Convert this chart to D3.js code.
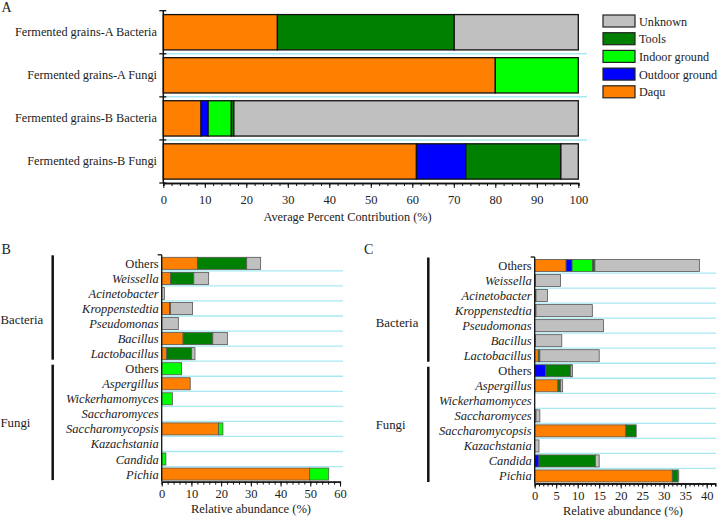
<!DOCTYPE html>
<html><head><meta charset="utf-8">
<script src="https://cdn.jsdelivr.net/npm/d3@7"></script>
</head>
<body style="margin:0;background:#fff"><svg id="c" width="720" height="517" font-family="Liberation Serif"></svg>
<script>
// ---------- DATA ----------
const sources = ["Daqu","Outdoor ground","Indoor ground","Tools","Unknown"];
const legendOrder = ["Unknown","Tools","Indoor ground","Outdoor ground","Daqu"];
const sourceColors = ["#ff8000","#0000ff","#00ff00","#008000","#c0c0c0"];

// Panel A
const samplesA = ["Fermented grains-A Bacteria","Fermented grains-A Fungi","Fermented grains-B Bacteria","Fermented grains-B Fungi"];
const aDaqu    = [27.5, 80.0, 9.1, 61.0];
const aOutdoor = [0, 0, 1.7, 11.9];
const aIndoor  = [0, 20.0, 5.6, 0];
const aTools   = [42.6, 0, 0.6, 22.9];
const aUnknown = [29.9, 0, 83.0, 4.2];
const ticksA = [0,10,20,30,40,50,60,70,80,90,100];

// Panels B and C (genus rows, top to bottom)
const genera = ["Others","Weissella","Acinetobacter","Kroppenstedtia","Pseudomonas","Bacillus","Lactobacillus",
                "Others","Aspergillus","Wickerhamomyces","Saccharomyces","Saccharomycopsis","Kazachstania","Candida","Pichia"];
const italicRow = [false,true,true,true,true,true,true,false,true,true,true,true,true,true,true];
const groups = ["Bacteria","Fungi"];
const groupRows = [[0,6],[7,14]];

const bDaqu    = [12.0,3.0,0,2.6,0,7.2,1.7, 0,9.6,0,0,19.1,0,0,49.8];
const bOutdoor = [0,0,0,0,0,0,0, 0,0,0,0,0,0,0,0];
const bIndoor  = [0,0,0,0,0,0,0, 6.7,0,3.6,0,1.5,0,1.4,6.4];
const bTools   = [16.6,7.8,0,0.4,0,10.0,8.4, 0,0,0,0,0,0,0,0];
const bUnknown = [4.7,5.0,0.9,7.4,5.6,4.9,1.1, 0,0,0,0,0,0,0,0];
const ticksB = [0,10,20,30,40,50,60];

const cDaqu    = [7.3,0,0,0.3,0,0.2,0.85, 0,5.4,0,0.3,21.2,0,0,32.0];
const cOutdoor = [1.4,0,0,0,0,0,0, 2.6,0,0,0,0,0,1.0,0];
const cIndoor  = [4.8,0,0,0,0,0,0, 0,0,0,0,0,0,0,0];
const cTools   = [0.5,0.2,0.3,0,0,0,0.35, 5.8,0.6,0,0,2.4,0,13.1,1.3];
const cUnknown = [24.3,5.8,2.7,13.1,16.0,6.1,13.8, 0.4,0.5,0,0.9,0,1.0,0.9,0.2];
const ticksC = [0,5,10,15,20,25,30,35,40];

// ---------- DRAW ----------
const FONT = "Liberation Serif";
const svg = d3.select("#c");
const color = d3.scaleOrdinal().domain(sources).range(sourceColors);
const cyan = "#a8e9f2";
const txt = (sel)=>sel.attr("font-family",FONT).attr("fill","#222");

function rows(names, arrs){
  return names.map((n,i)=>{
    const o = {key:i, name:n};
    sources.forEach((s,j)=>o[s]=arrs[j][i]);
    return o;
  });
}
const stack = d3.stack().keys(sources);

// ----- Panel A -----
{
  const x = d3.scaleLinear().domain([0,100]).range([163.3,578.3]);
  const y = d3.scaleBand().domain(d3.range(samplesA.length)).range([10.7,183]).paddingInner(0.18).paddingOuter(0.09);
  const data = rows(samplesA,[aDaqu,aOutdoor,aIndoor,aTools,aUnknown]);
  const series = stack(data);
  const g = svg.append("g");
  for(let i=1;i<samplesA.length;i++){
    const yy = 10.7 + i*(183-10.7)/samplesA.length;
    g.append("line").attr("x1",x(0)).attr("x2",587).attr("y1",yy).attr("y2",yy).attr("stroke",cyan).attr("stroke-width",1.5);
  }
  g.selectAll("g.s").data(series).join("g").attr("fill",d=>color(d.key))
    .selectAll("rect").data(d=>d.filter(p=>p[1]-p[0]>0)).join("rect")
    .attr("x",d=>x(d[0])).attr("width",d=>x(d[1])-x(d[0]))
    .attr("y",d=>y(d.data.key)).attr("height",y.bandwidth())
    .attr("stroke","#111").attr("stroke-width",1.3);
  const ax = g.append("g").attr("transform","translate(0,183)");
  ax.call(d3.axisBottom(x).tickValues(ticksA).tickSize(5).tickSizeOuter(0));
  ax.append("g").call(d3.axisBottom(x).tickValues(d3.range(0,101,2)).tickSize(3).tickFormat(""));
  ax.attr("font-family",FONT);
  ax.selectAll(".domain").attr("stroke","#111").attr("stroke-width",1.5);
  ax.selectAll("line").attr("stroke","#111");
  ax.selectAll("text").attr("font-size",12.5).attr("y",12).call(txt);
  g.append("text").attr("x",x(44.4)).attr("y",221).attr("text-anchor","middle").attr("font-size",12.3).call(txt).text("Average Percent Contribution (%)");
  g.append("line").attr("x1",x(0)).attr("x2",x(0)).attr("y1",10.7).attr("y2",183).attr("stroke","#111").attr("stroke-width",1.5);
  for(let i=0;i<=samplesA.length;i++){
    const yy = 10.7 + i*(183-10.7)/samplesA.length;
    g.append("line").attr("x1",x(0)-4).attr("x2",x(0)+3).attr("y1",yy).attr("y2",yy).attr("stroke","#111").attr("stroke-width",1.3);
  }
  g.selectAll("text.cat").data(samplesA).join("text").attr("class","cat")
    .attr("x",157).attr("y",(d,i)=>y(i)+y.bandwidth()/2+4).attr("text-anchor","end").attr("font-size",12.3).call(txt).text(d=>d);
  const lg = g.append("g");
  legendOrder.forEach((s,i)=>{
    const yy = 15 + i*17.7;
    lg.append("rect").attr("x",603).attr("y",yy).attr("width",32).attr("height",12).attr("fill",color(s)).attr("stroke","#222").attr("stroke-width",1.2);
    lg.append("text").attr("x",639).attr("y",yy+10.5).attr("font-size",12.2).call(txt).text(s);
  });
  svg.append("text").attr("x",1.5).attr("y",12).attr("font-size",14).call(txt).text("A");
}

// ----- Panels B and C -----
function panel(opt){
  const x = d3.scaleLinear().domain(opt.domain).range(opt.xr);
  const y = d3.scaleBand().domain(d3.range(genera.length)).range(opt.yr).paddingInner(0.2).paddingOuter(0.1);
  const data = rows(genera, opt.arrs);
  const series = stack(data);
  const g = svg.append("g");
  const axisY = opt.yr[1];
  for(let i=1;i<genera.length;i++){
    const yy = y(i) - y.step()*0.1;
    g.append("line").attr("x1",x(0)).attr("x2",opt.lineEnd).attr("y1",yy).attr("y2",yy).attr("stroke",cyan).attr("stroke-width",1.3);
  }
  g.selectAll("g.s").data(series).join("g").attr("fill",d=>color(d.key))
    .selectAll("rect").data(d=>d.filter(p=>p[1]-p[0]>0)).join("rect")
    .attr("x",d=>x(d[0])).attr("width",d=>x(d[1])-x(d[0]))
    .attr("y",d=>y(d.data.key)).attr("height",y.bandwidth())
    .attr("stroke","#555").attr("stroke-width",0.8);
  const ax = g.append("g").attr("transform",`translate(0,${axisY})`);
  ax.call(d3.axisBottom(x).tickValues(opt.ticks).tickSize(5).tickSizeOuter(0));
  ax.append("g").call(d3.axisBottom(x).tickValues(d3.range(0,opt.domain[1]+0.001,opt.minor)).tickSize(3).tickFormat(""));
  ax.attr("font-family",FONT);
  ax.selectAll(".domain").attr("stroke","#111").attr("stroke-width",1.3);
  ax.selectAll("line").attr("stroke","#111");
  ax.selectAll("text").attr("font-size",12.5).attr("y",8).call(txt);
  g.append("text").attr("x",opt.titleX).attr("y",axisY+31).attr("text-anchor","middle").attr("font-size",12.5).call(txt).text("Relative abundance (%)");
  g.append("line").attr("x1",x(0)).attr("x2",x(0)).attr("y1",opt.yr[0]-1).attr("y2",axisY).attr("stroke","#111").attr("stroke-width",1.3);
  g.append("line").attr("x1",x(0)-4).attr("x2",x(0)).attr("y1",opt.yr[0]-1).attr("y2",opt.yr[0]-1).attr("stroke","#111").attr("stroke-width",1.3);
  g.selectAll("text.cat").data(genera).join("text").attr("class","cat")
    .attr("x",x(0)-3).attr("y",(d,i)=>y(i)+y.bandwidth()/2+4.5).attr("text-anchor","end")
    .attr("font-size",12.5).attr("font-style",(d,i)=>italicRow[i]?"italic":"normal").call(txt).text(d=>d);
  const labelShift = [12.5, 0];
  groups.forEach((gname,k)=>{
    const [a,b] = groupRows[k];
    const y1 = y(a) - (k===0?2:-2), y2 = y(b)+y.bandwidth();
    g.append("line").attr("x1",opt.bracketX).attr("x2",opt.bracketX).attr("y1",y1).attr("y2",y2).attr("stroke","#111").attr("stroke-width",2.5);
    g.append("text").attr("x",opt.groupX).attr("y",(y1+y2)/2+4.5+labelShift[k]).attr("font-size",12.8).call(txt).text(gname);
  });
  svg.append("text").attr("x",opt.letterX).attr("y",253.5).attr("font-size",14).call(txt).text(opt.letter);
}
panel({letter:"B",letterX:1.5,domain:[0,60],xr:[161.7,340],yr:[255.8,481.6],ticks:ticksB,minor:2,lineEnd:343,
  titleX:251,bracketX:52.7,groupX:0.5,arrs:[bDaqu,bOutdoor,bIndoor,bTools,bUnknown]});
panel({letter:"C",letterX:364,domain:[0,42],xr:[534.7,715.3],yr:[258,483.5],ticks:ticksC,minor:1,lineEnd:716,
  titleX:623,bracketX:428.3,groupX:375.7,arrs:[cDaqu,cOutdoor,cIndoor,cTools,cUnknown]});
</script></body></html>
